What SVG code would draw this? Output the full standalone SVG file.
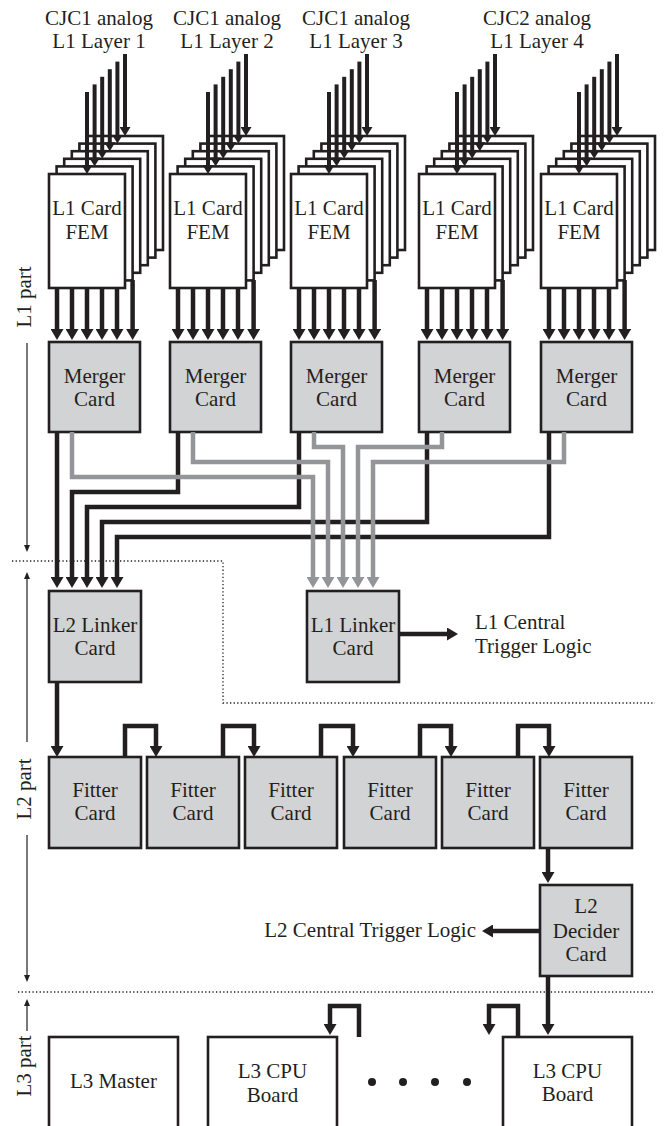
<svg xmlns="http://www.w3.org/2000/svg" width="667" height="1126" viewBox="0 0 667 1126">
<style>
.bx{fill:#d1d3d4;stroke:#231f20;stroke-width:2.6}
.wb{fill:#fff;stroke:#231f20;stroke-width:2.6}
.t{font-family:"Liberation Serif","Times New Roman",serif;font-size:21px;fill:#231f20;text-anchor:middle}
.te{font-family:"Liberation Serif","Times New Roman",serif;font-size:21px;fill:#231f20;text-anchor:end}
.ts{font-family:"Liberation Serif","Times New Roman",serif;font-size:21px;fill:#231f20;text-anchor:start}
.k{fill:none;stroke:#231f20;stroke-width:4.5;marker-end:url(#ab)}
.ks{fill:none;stroke:#231f20;stroke-width:4;marker-end:url(#as)}
.kn{fill:none;stroke:#231f20;stroke-width:4.5}
.g{fill:none;stroke:#939598;stroke-width:4.5;marker-end:url(#ag)}
.dt{fill:none;stroke:#231f20;stroke-width:1.3;stroke-dasharray:1.3 2.3}
.th{fill:none;stroke:#231f20;stroke-width:1.2;marker-end:url(#at)}
</style>
<defs>
<marker id="ab" markerUnits="userSpaceOnUse" markerWidth="11" markerHeight="13" viewBox="0 0 11 13" refX="1" refY="6.5" orient="auto"><path d="M0,0 L11,6.5 L0,13 Z" fill="#231f20"/></marker>
<marker id="as" markerUnits="userSpaceOnUse" markerWidth="9" markerHeight="11" viewBox="0 0 9 11" refX="1" refY="5.5" orient="auto"><path d="M0,0 L9,5.5 L0,11 Z" fill="#231f20"/></marker>
<marker id="ag" markerUnits="userSpaceOnUse" markerWidth="11" markerHeight="13" viewBox="0 0 11 13" refX="1" refY="6.5" orient="auto"><path d="M0,0 L11,6.5 L0,13 Z" fill="#939598"/></marker>
<marker id="at" markerUnits="userSpaceOnUse" markerWidth="7" markerHeight="6" viewBox="0 0 7 6" refX="1" refY="3" orient="auto"><path d="M0,0 L7,3 L0,6 Z" fill="#231f20"/></marker>
</defs>

<g id="labels-top">
<text class="t" x="99" y="25">CJC1 analog</text><text class="t" x="99" y="48">L1 Layer 1</text>
<text class="t" x="227" y="25">CJC1 analog</text><text class="t" x="227" y="48">L1 Layer 2</text>
<text class="t" x="356" y="25">CJC1 analog</text><text class="t" x="356" y="48">L1 Layer 3</text>
<text class="t" x="537" y="25">CJC2 analog</text><text class="t" x="537" y="48">L1 Layer 4</text>
</g>

<g id="part-labels">
<path class="dt" d="M12,561 H223 V703 H655"/>
<path class="dt" d="M18,992 H655"/>
<text class="t" transform="translate(31,297) rotate(-90)">L1 part</text>
<path class="th" d="M27,343 V546"/>
<path class="th" d="M27,742 V578"/>
<text class="t" transform="translate(31,789) rotate(-90)">L2 part</text>
<path class="th" d="M27,835 V976"/>
<path class="th" d="M27,1031 V1005"/>
<text class="t" transform="translate(31,1066) rotate(-90)">L3 part</text>
</g>

<g id="fem-stacks">
<g id="fem1" transform="translate(49,0)">
<rect class="wb" x="38" y="136" width="76" height="114"/><rect class="wb" x="30.4" y="143.6" width="76" height="114"/><rect class="wb" x="22.8" y="151.2" width="76" height="114"/><rect class="wb" x="15.2" y="158.8" width="76" height="114"/><rect class="wb" x="7.6" y="166.4" width="76" height="114"/><rect class="wb" x="0" y="174" width="76" height="114"/>
<text class="t" x="38" y="215">L1 Card</text><text class="t" x="38" y="239">FEM</text>
</g>
<g id="fem2" transform="translate(170,0)">
<rect class="wb" x="38" y="136" width="76" height="114"/><rect class="wb" x="30.4" y="143.6" width="76" height="114"/><rect class="wb" x="22.8" y="151.2" width="76" height="114"/><rect class="wb" x="15.2" y="158.8" width="76" height="114"/><rect class="wb" x="7.6" y="166.4" width="76" height="114"/><rect class="wb" x="0" y="174" width="76" height="114"/>
<text class="t" x="38" y="215">L1 Card</text><text class="t" x="38" y="239">FEM</text>
</g>
<g id="fem3" transform="translate(291,0)">
<rect class="wb" x="38" y="136" width="76" height="114"/><rect class="wb" x="30.4" y="143.6" width="76" height="114"/><rect class="wb" x="22.8" y="151.2" width="76" height="114"/><rect class="wb" x="15.2" y="158.8" width="76" height="114"/><rect class="wb" x="7.6" y="166.4" width="76" height="114"/><rect class="wb" x="0" y="174" width="76" height="114"/>
<text class="t" x="38" y="215">L1 Card</text><text class="t" x="38" y="239">FEM</text>
</g>
<g id="fem4" transform="translate(419,0)">
<rect class="wb" x="38" y="136" width="76" height="114"/><rect class="wb" x="30.4" y="143.6" width="76" height="114"/><rect class="wb" x="22.8" y="151.2" width="76" height="114"/><rect class="wb" x="15.2" y="158.8" width="76" height="114"/><rect class="wb" x="7.6" y="166.4" width="76" height="114"/><rect class="wb" x="0" y="174" width="76" height="114"/>
<text class="t" x="38" y="215">L1 Card</text><text class="t" x="38" y="239">FEM</text>
</g>
<g id="fem5" transform="translate(541,0)">
<rect class="wb" x="38" y="136" width="76" height="114"/><rect class="wb" x="30.4" y="143.6" width="76" height="114"/><rect class="wb" x="22.8" y="151.2" width="76" height="114"/><rect class="wb" x="15.2" y="158.8" width="76" height="114"/><rect class="wb" x="7.6" y="166.4" width="76" height="114"/><rect class="wb" x="0" y="174" width="76" height="114"/>
<text class="t" x="38" y="215">L1 Card</text><text class="t" x="38" y="239">FEM</text>
</g>
</g>

<g id="mergers">
<g id="merger1"><rect class="bx" x="49" y="342" width="91" height="90"/><text class="t" x="94.5" y="383">Merger</text><text class="t" x="94.5" y="406">Card</text></g>
<g id="merger2"><rect class="bx" x="170" y="342" width="91" height="90"/><text class="t" x="215.5" y="383">Merger</text><text class="t" x="215.5" y="406">Card</text></g>
<g id="merger3"><rect class="bx" x="291" y="342" width="91" height="90"/><text class="t" x="336.5" y="383">Merger</text><text class="t" x="336.5" y="406">Card</text></g>
<g id="merger4"><rect class="bx" x="419" y="342" width="91" height="90"/><text class="t" x="464.5" y="383">Merger</text><text class="t" x="464.5" y="406">Card</text></g>
<g id="merger5"><rect class="bx" x="541" y="342" width="91" height="90"/><text class="t" x="586.5" y="383">Merger</text><text class="t" x="586.5" y="406">Card</text></g>
</g>

<g id="l2linker"><rect class="bx" x="49" y="591" width="92" height="91"/><text class="t" x="95" y="632">L2 Linker</text><text class="t" x="95" y="655">Card</text></g>
<g id="l1linker"><rect class="bx" x="307" y="591" width="92" height="91"/><text class="t" x="353" y="632">L1 Linker</text><text class="t" x="353" y="655">Card</text></g>
<g id="l1ctl"><text class="ts" x="475" y="629">L1 Central</text><text class="ts" x="475" y="653">Trigger Logic</text></g>

<g id="fitters">
<g id="fitter1"><rect class="bx" x="49" y="757" width="92" height="91"/><text class="t" x="95" y="797">Fitter</text><text class="t" x="95" y="820">Card</text></g>
<g id="fitter2"><rect class="bx" x="147" y="757" width="92" height="91"/><text class="t" x="193" y="797">Fitter</text><text class="t" x="193" y="820">Card</text></g>
<g id="fitter3"><rect class="bx" x="245" y="757" width="92" height="91"/><text class="t" x="291" y="797">Fitter</text><text class="t" x="291" y="820">Card</text></g>
<g id="fitter4"><rect class="bx" x="344" y="757" width="92" height="91"/><text class="t" x="390" y="797">Fitter</text><text class="t" x="390" y="820">Card</text></g>
<g id="fitter5"><rect class="bx" x="442" y="757" width="92" height="91"/><text class="t" x="488" y="797">Fitter</text><text class="t" x="488" y="820">Card</text></g>
<g id="fitter6"><rect class="bx" x="540" y="757" width="92" height="91"/><text class="t" x="586" y="797">Fitter</text><text class="t" x="586" y="820">Card</text></g>
</g>

<g id="decider"><rect class="bx" x="540" y="885" width="92" height="91"/><text class="t" x="586" y="913">L2</text><text class="t" x="586" y="938">Decider</text><text class="t" x="586" y="961">Card</text></g>
<g id="l2ctl"><text class="te" x="476" y="937">L2 Central Trigger Logic</text></g>

<g id="l3master"><rect class="wb" x="49" y="1037" width="129" height="100"/><text class="t" x="113.5" y="1088">L3 Master</text></g>
<g id="l3cpu1"><rect class="wb" x="208" y="1037" width="129" height="100"/><text class="t" x="272.5" y="1078">L3 CPU</text><text class="t" x="272.5" y="1102">Board</text></g>
<g id="l3cpu2"><rect class="wb" x="503" y="1037" width="129" height="100"/><text class="t" x="567.5" y="1078">L3 CPU</text><text class="t" x="567.5" y="1101">Board</text></g>
<g id="dots" fill="#231f20"><circle cx="372" cy="1082" r="4"/><circle cx="403" cy="1082" r="4"/><circle cx="435" cy="1082" r="4"/><circle cx="467" cy="1082" r="4"/></g>

<g id="connectors">
<g id="fem-in">
<g transform="translate(49,0)"><path class="ks" d="M38,92 V166"/><path class="ks" d="M45.6,84.4 V158.4"/><path class="ks" d="M53.2,76.8 V150.8"/><path class="ks" d="M60.8,69.2 V143.2"/><path class="ks" d="M68.4,61.6 V135.6"/><path class="ks" d="M76,54 V128"/></g>
<g transform="translate(170,0)"><path class="ks" d="M38,92 V166"/><path class="ks" d="M45.6,84.4 V158.4"/><path class="ks" d="M53.2,76.8 V150.8"/><path class="ks" d="M60.8,69.2 V143.2"/><path class="ks" d="M68.4,61.6 V135.6"/><path class="ks" d="M76,54 V128"/></g>
<g transform="translate(291,0)"><path class="ks" d="M38,92 V166"/><path class="ks" d="M45.6,84.4 V158.4"/><path class="ks" d="M53.2,76.8 V150.8"/><path class="ks" d="M60.8,69.2 V143.2"/><path class="ks" d="M68.4,61.6 V135.6"/><path class="ks" d="M76,54 V128"/></g>
<g transform="translate(419,0)"><path class="ks" d="M38,92 V166"/><path class="ks" d="M45.6,84.4 V158.4"/><path class="ks" d="M53.2,76.8 V150.8"/><path class="ks" d="M60.8,69.2 V143.2"/><path class="ks" d="M68.4,61.6 V135.6"/><path class="ks" d="M76,54 V128"/></g>
<g transform="translate(541,0)"><path class="ks" d="M38,92 V166"/><path class="ks" d="M45.6,84.4 V158.4"/><path class="ks" d="M53.2,76.8 V150.8"/><path class="ks" d="M60.8,69.2 V143.2"/><path class="ks" d="M68.4,61.6 V135.6"/><path class="ks" d="M76,54 V128"/></g>
</g>
<g id="fem-out">
<g transform="translate(49,0)"><path class="k" d="M8,288 V330"/><path class="k" d="M23,288 V330"/><path class="k" d="M38,288 V330"/><path class="k" d="M53,288 V330"/><path class="k" d="M68,288 V330"/><path class="k" d="M83.6,280 V330"/></g>
<g transform="translate(170,0)"><path class="k" d="M8,288 V330"/><path class="k" d="M23,288 V330"/><path class="k" d="M38,288 V330"/><path class="k" d="M53,288 V330"/><path class="k" d="M68,288 V330"/><path class="k" d="M83.6,280 V330"/></g>
<g transform="translate(291,0)"><path class="k" d="M8,288 V330"/><path class="k" d="M23,288 V330"/><path class="k" d="M38,288 V330"/><path class="k" d="M53,288 V330"/><path class="k" d="M68,288 V330"/><path class="k" d="M83.6,280 V330"/></g>
<g transform="translate(419,0)"><path class="k" d="M8,288 V330"/><path class="k" d="M23,288 V330"/><path class="k" d="M38,288 V330"/><path class="k" d="M53,288 V330"/><path class="k" d="M68,288 V330"/><path class="k" d="M83.6,280 V330"/></g>
<g transform="translate(541,0)"><path class="k" d="M8,288 V330"/><path class="k" d="M23,288 V330"/><path class="k" d="M38,288 V330"/><path class="k" d="M53,288 V330"/><path class="k" d="M68,288 V330"/><path class="k" d="M83.6,280 V330"/></g>
</g>
<g id="to-l2linker">
<path class="k" d="M57,432 V578"/>
<path class="k" d="M178,432 V492 H72 V578"/>
<path class="k" d="M299,432 V507 H87 V578"/>
<path class="k" d="M427,432 V522 H102 V578"/>
<path class="k" d="M549,432 V537 H117 V578"/>
</g>
<g id="to-l1linker">
<path class="g" d="M72,432 V477 H313 V578"/>
<path class="g" d="M193,432 V462 H328 V578"/>
<path class="g" d="M314,432 V447 H343 V578"/>
<path class="g" d="M442,432 V447 H358 V578"/>
<path class="g" d="M564,432 V462 H373 V578"/>
</g>
<path class="k" d="M399,634 H448"/>
<path class="k" d="M57,682 V747"/>
<path class="k" d="M125,757 V726 H156 V747"/>
<path class="k" d="M223,757 V726 H254 V747"/>
<path class="k" d="M321,757 V726 H353 V747"/>
<path class="k" d="M420,757 V726 H451 V747"/>
<path class="k" d="M518,757 V726 H549 V747"/>
<path class="k" d="M548,848 V873"/>
<path class="k" d="M540,931 H492"/>
<path class="k" d="M548,976 V1025"/>
<path class="k" d="M518,1037 V1006 H489 V1025"/>
<path class="k" d="M359,1037 V1006 H330 V1025"/>
</g>
</svg>
